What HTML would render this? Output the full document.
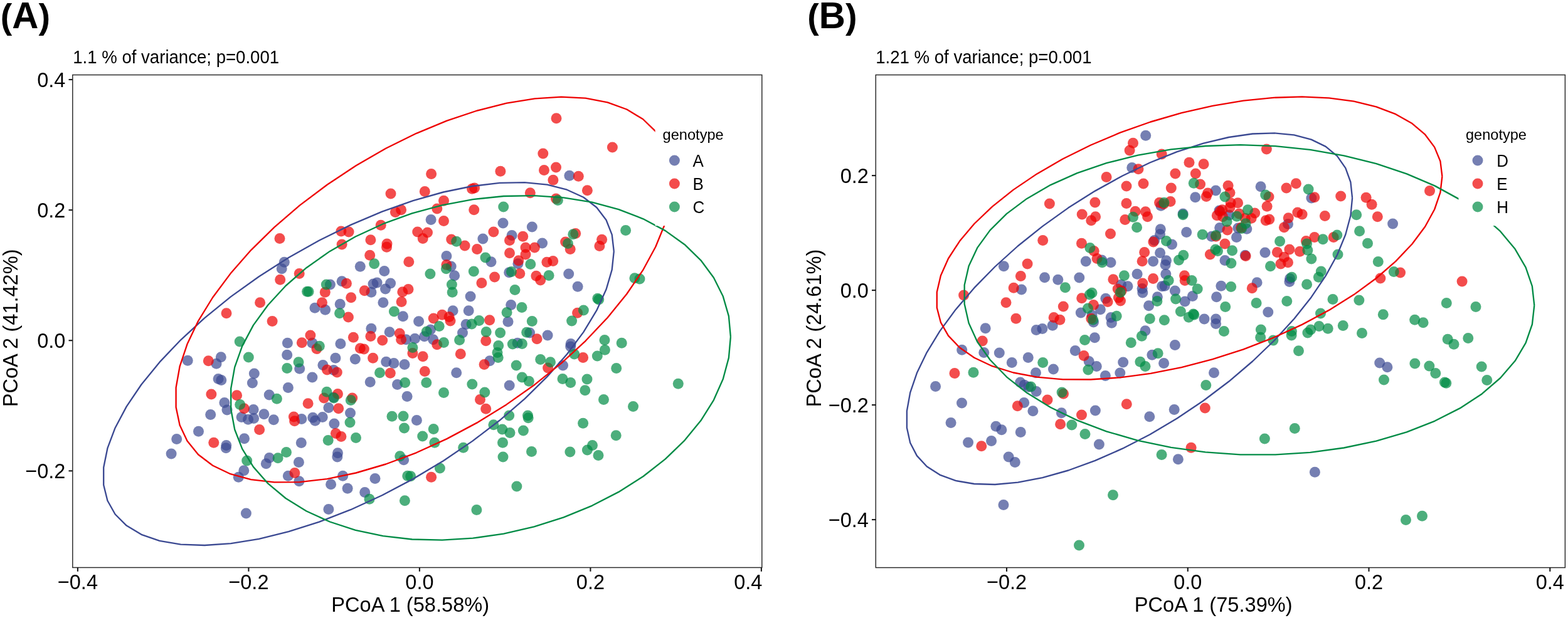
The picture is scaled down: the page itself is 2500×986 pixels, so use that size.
<!DOCTYPE html><html><head><meta charset="utf-8"><style>html,body{margin:0;padding:0;background:#fff;}svg{display:block}text{font-family:'Liberation Sans', Arial, sans-serif;fill:#000}</style></head><body>
<svg width="2500" height="986" viewBox="0 0 2500 986">
<rect x="0" y="0" width="2500" height="986" fill="#fff"/>
<text transform="translate(0.80,45.2)" font-weight="bold"><tspan font-size="55.6" dy="-0.6">(</tspan><tspan font-size="58.3" dy="0.6">A</tspan><tspan font-size="55.6" dy="-0.6">)</tspan></text>
<text transform="translate(116.20,101.20) scale(1,1.041)" font-size="27.6">1.1 % of variance; p=0.001</text>
<g fill-opacity="0.7">
<circle cx="687.1" cy="350.4" r="8.5" fill="#3B4992"/>
<circle cx="802.0" cy="356.0" r="8.5" fill="#3B4992"/>
<circle cx="848.3" cy="362.1" r="8.5" fill="#3B4992"/>
<circle cx="769.9" cy="381.1" r="8.5" fill="#3B4992"/>
<circle cx="816.1" cy="375.5" r="8.5" fill="#3B4992"/>
<circle cx="907.9" cy="280.3" r="8.5" fill="#3B4992"/>
<circle cx="864.6" cy="388.1" r="8.5" fill="#3B4992"/>
<circle cx="453.3" cy="418.3" r="8.5" fill="#3B4992"/>
<circle cx="449.2" cy="428.7" r="8.5" fill="#3B4992"/>
<circle cx="526.4" cy="454.1" r="8.5" fill="#3B4992"/>
<circle cx="545.1" cy="448.7" r="8.5" fill="#3B4992"/>
<circle cx="502.0" cy="491.3" r="8.5" fill="#3B4992"/>
<circle cx="518.6" cy="494.2" r="8.5" fill="#3B4992"/>
<circle cx="542.2" cy="485.2" r="8.5" fill="#3B4992"/>
<circle cx="299.2" cy="575.3" r="8.5" fill="#3B4992"/>
<circle cx="352.3" cy="569.7" r="8.5" fill="#3B4992"/>
<circle cx="345.0" cy="580.2" r="8.5" fill="#3B4992"/>
<circle cx="348.1" cy="604.5" r="8.5" fill="#3B4992"/>
<circle cx="352.8" cy="606.5" r="8.5" fill="#3B4992"/>
<circle cx="405.3" cy="596.0" r="8.5" fill="#3B4992"/>
<circle cx="402.4" cy="610.9" r="8.5" fill="#3B4992"/>
<circle cx="429.2" cy="630.1" r="8.5" fill="#3B4992"/>
<circle cx="458.4" cy="547.3" r="8.5" fill="#3B4992"/>
<circle cx="497.9" cy="547.3" r="8.5" fill="#3B4992"/>
<circle cx="542.9" cy="548.5" r="8.5" fill="#3B4992"/>
<circle cx="457.7" cy="566.3" r="8.5" fill="#3B4992"/>
<circle cx="477.7" cy="588.2" r="8.5" fill="#3B4992"/>
<circle cx="534.9" cy="571.2" r="8.5" fill="#3B4992"/>
<circle cx="514.9" cy="582.6" r="8.5" fill="#3B4992"/>
<circle cx="532.0" cy="590.4" r="8.5" fill="#3B4992"/>
<circle cx="497.9" cy="602.1" r="8.5" fill="#3B4992"/>
<circle cx="459.4" cy="618.4" r="8.5" fill="#3B4992"/>
<circle cx="574.3" cy="425.3" r="8.5" fill="#3B4992"/>
<circle cx="612.8" cy="432.4" r="8.5" fill="#3B4992"/>
<circle cx="711.9" cy="408.5" r="8.5" fill="#3B4992"/>
<circle cx="719.2" cy="425.1" r="8.5" fill="#3B4992"/>
<circle cx="724.6" cy="439.7" r="8.5" fill="#3B4992"/>
<circle cx="783.0" cy="417.8" r="8.5" fill="#3B4992"/>
<circle cx="825.9" cy="420.7" r="8.5" fill="#3B4992"/>
<circle cx="811.7" cy="434.8" r="8.5" fill="#3B4992"/>
<circle cx="595.0" cy="453.1" r="8.5" fill="#3B4992"/>
<circle cx="601.1" cy="451.1" r="8.5" fill="#3B4992"/>
<circle cx="622.6" cy="451.9" r="8.5" fill="#3B4992"/>
<circle cx="591.9" cy="466.2" r="8.5" fill="#3B4992"/>
<circle cx="614.5" cy="460.9" r="8.5" fill="#3B4992"/>
<circle cx="610.9" cy="482.8" r="8.5" fill="#3B4992"/>
<circle cx="642.5" cy="504.7" r="8.5" fill="#3B4992"/>
<circle cx="750.1" cy="473.0" r="8.5" fill="#3B4992"/>
<circle cx="814.7" cy="486.4" r="8.5" fill="#3B4992"/>
<circle cx="722.1" cy="495.7" r="8.5" fill="#3B4992"/>
<circle cx="747.2" cy="495.7" r="8.5" fill="#3B4992"/>
<circle cx="667.6" cy="512.7" r="8.5" fill="#3B4992"/>
<circle cx="810.0" cy="513.2" r="8.5" fill="#3B4992"/>
<circle cx="743.1" cy="517.6" r="8.5" fill="#3B4992"/>
<circle cx="591.9" cy="524.2" r="8.5" fill="#3B4992"/>
<circle cx="621.1" cy="529.8" r="8.5" fill="#3B4992"/>
<circle cx="647.4" cy="541.7" r="8.5" fill="#3B4992"/>
<circle cx="661.5" cy="540.2" r="8.5" fill="#3B4992"/>
<circle cx="676.6" cy="536.8" r="8.5" fill="#3B4992"/>
<circle cx="686.4" cy="526.1" r="8.5" fill="#3B4992"/>
<circle cx="690.7" cy="541.7" r="8.5" fill="#3B4992"/>
<circle cx="737.5" cy="531.0" r="8.5" fill="#3B4992"/>
<circle cx="844.6" cy="531.0" r="8.5" fill="#3B4992"/>
<circle cx="825.1" cy="547.3" r="8.5" fill="#3B4992"/>
<circle cx="780.8" cy="575.8" r="8.5" fill="#3B4992"/>
<circle cx="566.3" cy="572.9" r="8.5" fill="#3B4992"/>
<circle cx="615.7" cy="577.3" r="8.5" fill="#3B4992"/>
<circle cx="627.9" cy="579.4" r="8.5" fill="#3B4992"/>
<circle cx="645.0" cy="581.4" r="8.5" fill="#3B4992"/>
<circle cx="727.7" cy="594.8" r="8.5" fill="#3B4992"/>
<circle cx="590.2" cy="609.4" r="8.5" fill="#3B4992"/>
<circle cx="633.5" cy="613.5" r="8.5" fill="#3B4992"/>
<circle cx="812.2" cy="615.0" r="8.5" fill="#3B4992"/>
<circle cx="649.1" cy="632.5" r="8.5" fill="#3B4992"/>
<circle cx="906.7" cy="437.0" r="8.5" fill="#3B4992"/>
<circle cx="921.1" cy="457.2" r="8.5" fill="#3B4992"/>
<circle cx="873.1" cy="535.1" r="8.5" fill="#3B4992"/>
<circle cx="910.1" cy="548.5" r="8.5" fill="#3B4992"/>
<circle cx="909.7" cy="552.9" r="8.5" fill="#3B4992"/>
<circle cx="897.5" cy="583.1" r="8.5" fill="#3B4992"/>
<circle cx="357.9" cy="642.4" r="8.5" fill="#3B4992"/>
<circle cx="362.0" cy="654.1" r="8.5" fill="#3B4992"/>
<circle cx="404.1" cy="653.4" r="8.5" fill="#3B4992"/>
<circle cx="335.7" cy="661.4" r="8.5" fill="#3B4992"/>
<circle cx="385.1" cy="665.6" r="8.5" fill="#3B4992"/>
<circle cx="395.6" cy="669.2" r="8.5" fill="#3B4992"/>
<circle cx="404.6" cy="667.5" r="8.5" fill="#3B4992"/>
<circle cx="420.9" cy="660.7" r="8.5" fill="#3B4992"/>
<circle cx="436.3" cy="669.7" r="8.5" fill="#3B4992"/>
<circle cx="480.8" cy="668.5" r="8.5" fill="#3B4992"/>
<circle cx="498.8" cy="666.3" r="8.5" fill="#3B4992"/>
<circle cx="502.5" cy="671.2" r="8.5" fill="#3B4992"/>
<circle cx="514.2" cy="665.6" r="8.5" fill="#3B4992"/>
<circle cx="523.9" cy="650.5" r="8.5" fill="#3B4992"/>
<circle cx="532.9" cy="676.0" r="8.5" fill="#3B4992"/>
<circle cx="316.5" cy="688.2" r="8.5" fill="#3B4992"/>
<circle cx="281.7" cy="700.4" r="8.5" fill="#3B4992"/>
<circle cx="360.8" cy="710.6" r="8.5" fill="#3B4992"/>
<circle cx="360.3" cy="714.8" r="8.5" fill="#3B4992"/>
<circle cx="389.5" cy="699.7" r="8.5" fill="#3B4992"/>
<circle cx="273.1" cy="724.0" r="8.5" fill="#3B4992"/>
<circle cx="480.3" cy="706.5" r="8.5" fill="#3B4992"/>
<circle cx="429.4" cy="730.6" r="8.5" fill="#3B4992"/>
<circle cx="424.3" cy="739.8" r="8.5" fill="#3B4992"/>
<circle cx="538.5" cy="722.8" r="8.5" fill="#3B4992"/>
<circle cx="537.8" cy="728.9" r="8.5" fill="#3B4992"/>
<circle cx="476.4" cy="737.4" r="8.5" fill="#3B4992"/>
<circle cx="388.8" cy="750.8" r="8.5" fill="#3B4992"/>
<circle cx="380.3" cy="761.3" r="8.5" fill="#3B4992"/>
<circle cx="459.4" cy="759.3" r="8.5" fill="#3B4992"/>
<circle cx="476.9" cy="767.8" r="8.5" fill="#3B4992"/>
<circle cx="546.6" cy="759.3" r="8.5" fill="#3B4992"/>
<circle cx="527.6" cy="772.7" r="8.5" fill="#3B4992"/>
<circle cx="523.9" cy="812.4" r="8.5" fill="#3B4992"/>
<circle cx="392.4" cy="819.0" r="8.5" fill="#3B4992"/>
<circle cx="558.5" cy="659.0" r="8.5" fill="#3B4992"/>
<circle cx="664.4" cy="670.4" r="8.5" fill="#3B4992"/>
<circle cx="643.7" cy="733.7" r="8.5" fill="#3B4992"/>
<circle cx="598.0" cy="763.4" r="8.5" fill="#3B4992"/>
<circle cx="554.1" cy="779.3" r="8.5" fill="#3B4992"/>
<circle cx="581.7" cy="785.6" r="8.5" fill="#3B4992"/>
<circle cx="531.7" cy="634.0" r="8.5" fill="#3B4992"/>
<circle cx="446.0" cy="380.4" r="8.5" fill="#EE0000"/>
<circle cx="543.9" cy="368.9" r="8.5" fill="#EE0000"/>
<circle cx="545.1" cy="390.1" r="8.5" fill="#EE0000"/>
<circle cx="687.6" cy="277.6" r="8.5" fill="#EE0000"/>
<circle cx="797.9" cy="273.2" r="8.5" fill="#EE0000"/>
<circle cx="623.0" cy="309.0" r="8.5" fill="#EE0000"/>
<circle cx="677.3" cy="305.4" r="8.5" fill="#EE0000"/>
<circle cx="752.6" cy="301.2" r="8.5" fill="#EE0000"/>
<circle cx="756.5" cy="300.0" r="8.5" fill="#EE0000"/>
<circle cx="845.3" cy="307.8" r="8.5" fill="#EE0000"/>
<circle cx="707.5" cy="320.2" r="8.5" fill="#EE0000"/>
<circle cx="639.6" cy="334.8" r="8.5" fill="#EE0000"/>
<circle cx="630.4" cy="338.5" r="8.5" fill="#EE0000"/>
<circle cx="696.8" cy="332.9" r="8.5" fill="#EE0000"/>
<circle cx="755.7" cy="334.8" r="8.5" fill="#EE0000"/>
<circle cx="707.5" cy="352.4" r="8.5" fill="#EE0000"/>
<circle cx="607.2" cy="359.2" r="8.5" fill="#EE0000"/>
<circle cx="556.1" cy="370.1" r="8.5" fill="#EE0000"/>
<circle cx="590.9" cy="382.8" r="8.5" fill="#EE0000"/>
<circle cx="617.0" cy="388.9" r="8.5" fill="#EE0000"/>
<circle cx="616.5" cy="394.2" r="8.5" fill="#EE0000"/>
<circle cx="665.7" cy="369.9" r="8.5" fill="#EE0000"/>
<circle cx="681.5" cy="370.9" r="8.5" fill="#EE0000"/>
<circle cx="674.2" cy="380.4" r="8.5" fill="#EE0000"/>
<circle cx="719.7" cy="382.1" r="8.5" fill="#EE0000"/>
<circle cx="741.1" cy="392.0" r="8.5" fill="#EE0000"/>
<circle cx="786.9" cy="369.9" r="8.5" fill="#EE0000"/>
<circle cx="812.5" cy="383.5" r="8.5" fill="#EE0000"/>
<circle cx="833.7" cy="377.2" r="8.5" fill="#EE0000"/>
<circle cx="838.0" cy="395.0" r="8.5" fill="#EE0000"/>
<circle cx="760.6" cy="397.4" r="8.5" fill="#EE0000"/>
<circle cx="887.0" cy="188.7" r="8.5" fill="#EE0000"/>
<circle cx="976.4" cy="235.0" r="8.5" fill="#EE0000"/>
<circle cx="865.8" cy="245.0" r="8.5" fill="#EE0000"/>
<circle cx="867.5" cy="271.5" r="8.5" fill="#EE0000"/>
<circle cx="886.5" cy="267.1" r="8.5" fill="#EE0000"/>
<circle cx="922.3" cy="281.3" r="8.5" fill="#EE0000"/>
<circle cx="881.9" cy="287.3" r="8.5" fill="#EE0000"/>
<circle cx="936.4" cy="303.7" r="8.5" fill="#EE0000"/>
<circle cx="886.5" cy="317.0" r="8.5" fill="#EE0000"/>
<circle cx="917.7" cy="372.6" r="8.5" fill="#EE0000"/>
<circle cx="901.6" cy="386.0" r="8.5" fill="#EE0000"/>
<circle cx="909.2" cy="397.4" r="8.5" fill="#EE0000"/>
<circle cx="852.4" cy="395.0" r="8.5" fill="#EE0000"/>
<circle cx="959.6" cy="382.3" r="8.5" fill="#EE0000"/>
<circle cx="955.9" cy="392.5" r="8.5" fill="#EE0000"/>
<circle cx="446.7" cy="446.3" r="8.5" fill="#EE0000"/>
<circle cx="477.2" cy="436.5" r="8.5" fill="#EE0000"/>
<circle cx="414.6" cy="482.8" r="8.5" fill="#EE0000"/>
<circle cx="361.0" cy="499.8" r="8.5" fill="#EE0000"/>
<circle cx="434.1" cy="512.5" r="8.5" fill="#EE0000"/>
<circle cx="518.3" cy="466.2" r="8.5" fill="#EE0000"/>
<circle cx="513.5" cy="482.8" r="8.5" fill="#EE0000"/>
<circle cx="332.3" cy="575.8" r="8.5" fill="#EE0000"/>
<circle cx="336.9" cy="628.9" r="8.5" fill="#EE0000"/>
<circle cx="377.6" cy="630.8" r="8.5" fill="#EE0000"/>
<circle cx="494.9" cy="535.1" r="8.5" fill="#EE0000"/>
<circle cx="481.3" cy="546.8" r="8.5" fill="#EE0000"/>
<circle cx="504.9" cy="556.6" r="8.5" fill="#EE0000"/>
<circle cx="521.5" cy="589.9" r="8.5" fill="#EE0000"/>
<circle cx="537.3" cy="594.1" r="8.5" fill="#EE0000"/>
<circle cx="538.5" cy="628.4" r="8.5" fill="#EE0000"/>
<circle cx="516.6" cy="635.0" r="8.5" fill="#EE0000"/>
<circle cx="589.7" cy="407.3" r="8.5" fill="#EE0000"/>
<circle cx="651.8" cy="417.8" r="8.5" fill="#EE0000"/>
<circle cx="711.9" cy="422.4" r="8.5" fill="#EE0000"/>
<circle cx="812.5" cy="403.7" r="8.5" fill="#EE0000"/>
<circle cx="838.0" cy="406.1" r="8.5" fill="#EE0000"/>
<circle cx="826.8" cy="415.8" r="8.5" fill="#EE0000"/>
<circle cx="828.8" cy="436.5" r="8.5" fill="#EE0000"/>
<circle cx="788.6" cy="441.9" r="8.5" fill="#EE0000"/>
<circle cx="767.9" cy="451.6" r="8.5" fill="#EE0000"/>
<circle cx="552.4" cy="452.3" r="8.5" fill="#EE0000"/>
<circle cx="581.2" cy="463.8" r="8.5" fill="#EE0000"/>
<circle cx="641.8" cy="465.7" r="8.5" fill="#EE0000"/>
<circle cx="651.0" cy="461.6" r="8.5" fill="#EE0000"/>
<circle cx="559.7" cy="474.8" r="8.5" fill="#EE0000"/>
<circle cx="640.1" cy="481.6" r="8.5" fill="#EE0000"/>
<circle cx="555.4" cy="505.9" r="8.5" fill="#EE0000"/>
<circle cx="691.2" cy="507.9" r="8.5" fill="#EE0000"/>
<circle cx="704.9" cy="502.3" r="8.5" fill="#EE0000"/>
<circle cx="716.1" cy="505.4" r="8.5" fill="#EE0000"/>
<circle cx="718.0" cy="512.0" r="8.5" fill="#EE0000"/>
<circle cx="780.6" cy="510.8" r="8.5" fill="#EE0000"/>
<circle cx="590.9" cy="536.4" r="8.5" fill="#EE0000"/>
<circle cx="563.4" cy="538.3" r="8.5" fill="#EE0000"/>
<circle cx="609.7" cy="542.9" r="8.5" fill="#EE0000"/>
<circle cx="637.2" cy="532.0" r="8.5" fill="#EE0000"/>
<circle cx="639.6" cy="541.7" r="8.5" fill="#EE0000"/>
<circle cx="696.8" cy="549.7" r="8.5" fill="#EE0000"/>
<circle cx="774.7" cy="543.7" r="8.5" fill="#EE0000"/>
<circle cx="574.3" cy="555.8" r="8.5" fill="#EE0000"/>
<circle cx="580.4" cy="557.0" r="8.5" fill="#EE0000"/>
<circle cx="657.9" cy="563.6" r="8.5" fill="#EE0000"/>
<circle cx="674.2" cy="568.7" r="8.5" fill="#EE0000"/>
<circle cx="734.3" cy="564.8" r="8.5" fill="#EE0000"/>
<circle cx="772.1" cy="581.4" r="8.5" fill="#EE0000"/>
<circle cx="594.6" cy="571.2" r="8.5" fill="#EE0000"/>
<circle cx="622.3" cy="595.3" r="8.5" fill="#EE0000"/>
<circle cx="677.3" cy="592.4" r="8.5" fill="#EE0000"/>
<circle cx="765.5" cy="637.4" r="8.5" fill="#EE0000"/>
<circle cx="561.7" cy="635.0" r="8.5" fill="#EE0000"/>
<circle cx="871.9" cy="418.3" r="8.5" fill="#EE0000"/>
<circle cx="881.7" cy="416.6" r="8.5" fill="#EE0000"/>
<circle cx="854.9" cy="440.2" r="8.5" fill="#EE0000"/>
<circle cx="861.7" cy="447.0" r="8.5" fill="#EE0000"/>
<circle cx="920.6" cy="499.3" r="8.5" fill="#EE0000"/>
<circle cx="856.1" cy="540.7" r="8.5" fill="#EE0000"/>
<circle cx="929.6" cy="570.4" r="8.5" fill="#EE0000"/>
<circle cx="873.6" cy="587.0" r="8.5" fill="#EE0000"/>
<circle cx="491.1" cy="643.7" r="8.5" fill="#EE0000"/>
<circle cx="389.3" cy="651.7" r="8.5" fill="#EE0000"/>
<circle cx="468.4" cy="665.1" r="8.5" fill="#EE0000"/>
<circle cx="469.6" cy="671.7" r="8.5" fill="#EE0000"/>
<circle cx="539.7" cy="651.7" r="8.5" fill="#EE0000"/>
<circle cx="413.6" cy="685.5" r="8.5" fill="#EE0000"/>
<circle cx="340.8" cy="706.2" r="8.5" fill="#EE0000"/>
<circle cx="535.4" cy="691.6" r="8.5" fill="#EE0000"/>
<circle cx="543.9" cy="696.5" r="8.5" fill="#EE0000"/>
<circle cx="469.9" cy="754.4" r="8.5" fill="#EE0000"/>
<circle cx="774.7" cy="652.2" r="8.5" fill="#EE0000"/>
<circle cx="687.6" cy="761.3" r="8.5" fill="#EE0000"/>
<circle cx="802.7" cy="330.0" r="8.5" fill="#008B45"/>
<circle cx="727.7" cy="385.2" r="8.5" fill="#008B45"/>
<circle cx="889.4" cy="319.5" r="8.5" fill="#008B45"/>
<circle cx="997.6" cy="367.5" r="8.5" fill="#008B45"/>
<circle cx="913.8" cy="373.8" r="8.5" fill="#008B45"/>
<circle cx="905.5" cy="388.4" r="8.5" fill="#008B45"/>
<circle cx="489.6" cy="465.3" r="8.5" fill="#008B45"/>
<circle cx="492.0" cy="465.3" r="8.5" fill="#008B45"/>
<circle cx="520.3" cy="454.1" r="8.5" fill="#008B45"/>
<circle cx="541.5" cy="499.8" r="8.5" fill="#008B45"/>
<circle cx="382.2" cy="544.9" r="8.5" fill="#008B45"/>
<circle cx="396.3" cy="570.0" r="8.5" fill="#008B45"/>
<circle cx="441.4" cy="636.2" r="8.5" fill="#008B45"/>
<circle cx="509.3" cy="552.2" r="8.5" fill="#008B45"/>
<circle cx="476.0" cy="577.7" r="8.5" fill="#008B45"/>
<circle cx="457.7" cy="587.5" r="8.5" fill="#008B45"/>
<circle cx="521.0" cy="625.2" r="8.5" fill="#008B45"/>
<circle cx="532.4" cy="635.0" r="8.5" fill="#008B45"/>
<circle cx="596.7" cy="420.7" r="8.5" fill="#008B45"/>
<circle cx="711.4" cy="428.7" r="8.5" fill="#008B45"/>
<circle cx="685.9" cy="437.0" r="8.5" fill="#008B45"/>
<circle cx="720.4" cy="454.1" r="8.5" fill="#008B45"/>
<circle cx="721.2" cy="466.2" r="8.5" fill="#008B45"/>
<circle cx="774.0" cy="411.0" r="8.5" fill="#008B45"/>
<circle cx="755.3" cy="432.9" r="8.5" fill="#008B45"/>
<circle cx="845.8" cy="421.4" r="8.5" fill="#008B45"/>
<circle cx="815.4" cy="433.6" r="8.5" fill="#008B45"/>
<circle cx="821.0" cy="462.6" r="8.5" fill="#008B45"/>
<circle cx="628.4" cy="496.9" r="8.5" fill="#008B45"/>
<circle cx="832.0" cy="490.6" r="8.5" fill="#008B45"/>
<circle cx="808.1" cy="498.6" r="8.5" fill="#008B45"/>
<circle cx="700.2" cy="520.5" r="8.5" fill="#008B45"/>
<circle cx="763.8" cy="511.5" r="8.5" fill="#008B45"/>
<circle cx="752.1" cy="516.9" r="8.5" fill="#008B45"/>
<circle cx="848.3" cy="512.5" r="8.5" fill="#008B45"/>
<circle cx="680.3" cy="529.0" r="8.5" fill="#008B45"/>
<circle cx="707.5" cy="546.6" r="8.5" fill="#008B45"/>
<circle cx="732.6" cy="542.4" r="8.5" fill="#008B45"/>
<circle cx="775.2" cy="529.5" r="8.5" fill="#008B45"/>
<circle cx="797.6" cy="531.0" r="8.5" fill="#008B45"/>
<circle cx="839.7" cy="530.3" r="8.5" fill="#008B45"/>
<circle cx="794.7" cy="551.4" r="8.5" fill="#008B45"/>
<circle cx="817.3" cy="549.0" r="8.5" fill="#008B45"/>
<circle cx="832.4" cy="548.5" r="8.5" fill="#008B45"/>
<circle cx="657.9" cy="554.6" r="8.5" fill="#008B45"/>
<circle cx="793.0" cy="562.6" r="8.5" fill="#008B45"/>
<circle cx="794.2" cy="570.4" r="8.5" fill="#008B45"/>
<circle cx="823.2" cy="583.1" r="8.5" fill="#008B45"/>
<circle cx="605.5" cy="594.8" r="8.5" fill="#008B45"/>
<circle cx="645.7" cy="610.6" r="8.5" fill="#008B45"/>
<circle cx="679.8" cy="610.6" r="8.5" fill="#008B45"/>
<circle cx="752.8" cy="613.1" r="8.5" fill="#008B45"/>
<circle cx="832.4" cy="602.1" r="8.5" fill="#008B45"/>
<circle cx="843.4" cy="608.2" r="8.5" fill="#008B45"/>
<circle cx="707.5" cy="626.4" r="8.5" fill="#008B45"/>
<circle cx="772.8" cy="626.0" r="8.5" fill="#008B45"/>
<circle cx="559.3" cy="638.6" r="8.5" fill="#008B45"/>
<circle cx="875.1" cy="439.4" r="8.5" fill="#008B45"/>
<circle cx="952.8" cy="476.2" r="8.5" fill="#008B45"/>
<circle cx="954.7" cy="477.9" r="8.5" fill="#008B45"/>
<circle cx="1011.9" cy="443.8" r="8.5" fill="#008B45"/>
<circle cx="1020.0" cy="445.0" r="8.5" fill="#008B45"/>
<circle cx="930.4" cy="495.0" r="8.5" fill="#008B45"/>
<circle cx="911.6" cy="512.0" r="8.5" fill="#008B45"/>
<circle cx="915.7" cy="565.1" r="8.5" fill="#008B45"/>
<circle cx="964.0" cy="542.4" r="8.5" fill="#008B45"/>
<circle cx="991.2" cy="547.3" r="8.5" fill="#008B45"/>
<circle cx="964.4" cy="558.3" r="8.5" fill="#008B45"/>
<circle cx="952.3" cy="568.0" r="8.5" fill="#008B45"/>
<circle cx="861.7" cy="573.6" r="8.5" fill="#008B45"/>
<circle cx="877.5" cy="577.7" r="8.5" fill="#008B45"/>
<circle cx="982.7" cy="587.5" r="8.5" fill="#008B45"/>
<circle cx="897.0" cy="604.5" r="8.5" fill="#008B45"/>
<circle cx="909.7" cy="610.6" r="8.5" fill="#008B45"/>
<circle cx="936.0" cy="605.0" r="8.5" fill="#008B45"/>
<circle cx="932.8" cy="622.8" r="8.5" fill="#008B45"/>
<circle cx="1081.3" cy="612.3" r="8.5" fill="#008B45"/>
<circle cx="962.5" cy="637.4" r="8.5" fill="#008B45"/>
<circle cx="382.7" cy="645.4" r="8.5" fill="#008B45"/>
<circle cx="523.2" cy="702.6" r="8.5" fill="#008B45"/>
<circle cx="456.5" cy="721.6" r="8.5" fill="#008B45"/>
<circle cx="443.1" cy="730.8" r="8.5" fill="#008B45"/>
<circle cx="393.7" cy="735.0" r="8.5" fill="#008B45"/>
<circle cx="558.0" cy="674.1" r="8.5" fill="#008B45"/>
<circle cx="567.5" cy="698.4" r="8.5" fill="#008B45"/>
<circle cx="625.0" cy="664.3" r="8.5" fill="#008B45"/>
<circle cx="643.0" cy="663.9" r="8.5" fill="#008B45"/>
<circle cx="644.5" cy="683.1" r="8.5" fill="#008B45"/>
<circle cx="691.2" cy="684.6" r="8.5" fill="#008B45"/>
<circle cx="673.7" cy="696.0" r="8.5" fill="#008B45"/>
<circle cx="692.9" cy="706.2" r="8.5" fill="#008B45"/>
<circle cx="738.7" cy="714.3" r="8.5" fill="#008B45"/>
<circle cx="786.9" cy="677.7" r="8.5" fill="#008B45"/>
<circle cx="811.7" cy="663.1" r="8.5" fill="#008B45"/>
<circle cx="800.8" cy="685.0" r="8.5" fill="#008B45"/>
<circle cx="813.0" cy="690.6" r="8.5" fill="#008B45"/>
<circle cx="801.5" cy="706.2" r="8.5" fill="#008B45"/>
<circle cx="834.4" cy="687.0" r="8.5" fill="#008B45"/>
<circle cx="841.5" cy="663.1" r="8.5" fill="#008B45"/>
<circle cx="842.2" cy="666.8" r="8.5" fill="#008B45"/>
<circle cx="847.5" cy="720.4" r="8.5" fill="#008B45"/>
<circle cx="802.0" cy="728.9" r="8.5" fill="#008B45"/>
<circle cx="637.7" cy="727.7" r="8.5" fill="#008B45"/>
<circle cx="701.4" cy="747.1" r="8.5" fill="#008B45"/>
<circle cx="649.8" cy="759.3" r="8.5" fill="#008B45"/>
<circle cx="654.7" cy="759.8" r="8.5" fill="#008B45"/>
<circle cx="589.0" cy="796.3" r="8.5" fill="#008B45"/>
<circle cx="645.4" cy="798.8" r="8.5" fill="#008B45"/>
<circle cx="823.9" cy="775.9" r="8.5" fill="#008B45"/>
<circle cx="759.9" cy="813.4" r="8.5" fill="#008B45"/>
<circle cx="1009.5" cy="648.5" r="8.5" fill="#008B45"/>
<circle cx="929.6" cy="675.3" r="8.5" fill="#008B45"/>
<circle cx="982.2" cy="694.8" r="8.5" fill="#008B45"/>
<circle cx="944.5" cy="710.6" r="8.5" fill="#008B45"/>
<circle cx="936.4" cy="717.9" r="8.5" fill="#008B45"/>
<circle cx="954.0" cy="726.4" r="8.5" fill="#008B45"/>
<circle cx="908.9" cy="721.1" r="8.5" fill="#008B45"/>
</g>
<polyline points="978.8,401.0 975.7,374.4 966.5,351.0 951.3,331.0 930.3,314.8 903.9,302.7 872.5,294.7 836.5,291.1 796.5,291.9 753.1,297.0 706.9,306.5 658.7,320.1 609.2,337.6 559.1,358.9 509.1,383.5 460.2,411.0 412.9,441.2 368.0,473.4 326.2,507.3 288.2,542.3 254.4,577.9 225.4,613.5 201.7,648.6 183.6,682.7 171.4,715.2 165.2,745.7 165.2,773.7 171.4,798.7 183.6,820.5 201.7,838.6 225.4,852.8 254.4,862.8 288.2,868.6 326.2,870.0 368.0,867.1 412.9,859.8 460.2,848.2 509.1,832.6 559.1,813.2 609.2,790.2 658.7,764.1 706.9,735.2 753.1,703.9 796.5,670.8 836.5,636.3 872.5,600.9 903.9,565.3 930.3,529.9 951.3,495.2 966.5,461.8 975.7,430.3 978.8,401.0" fill="none" stroke="#3B4992" stroke-width="2.35" stroke-linejoin="round" stroke-linecap="butt"/>
<polyline points="1072.1,290.1 1069.1,260.1 1060.1,233.2 1045.3,209.7 1025.0,190.0 999.3,174.5 968.7,163.3 933.7,156.7 894.8,154.7 852.5,157.4 807.6,164.7 760.7,176.5 712.5,192.6 663.8,212.8 615.2,236.8 567.6,264.2 521.6,294.7 477.9,327.6 437.3,362.6 400.2,399.1 367.4,436.6 339.2,474.5 316.1,512.1 298.5,549.1 286.6,584.7 280.6,618.4 280.6,649.8 286.6,678.3 298.5,703.6 316.1,725.2 339.2,742.8 367.4,756.2 400.2,765.1 437.3,769.4 477.9,769.1 521.6,764.1 567.6,754.5 615.2,740.5 663.8,722.3 712.5,700.1 760.7,674.4 807.6,645.4 852.5,613.7 894.8,579.6 933.7,543.8 968.7,506.7 999.3,469.0 1025.0,431.2 1045.3,393.8 1060.1,357.5 1069.1,322.7 1072.1,290.1" fill="none" stroke="#EE0000" stroke-width="2.35" stroke-linejoin="round" stroke-linecap="butt"/>
<polyline points="1164.9,537.3 1161.9,504.4 1152.8,472.8 1137.9,443.0 1117.4,415.3 1091.6,390.2 1060.8,368.1 1025.6,349.3 986.4,334.1 943.9,322.7 898.7,315.4 851.5,312.1 802.9,313.0 753.9,318.1 705.0,327.3 657.0,340.3 610.7,357.2 566.8,377.5 525.9,400.9 488.6,427.2 455.5,456.0 427.2,486.7 403.9,518.9 386.2,552.1 374.2,585.9 368.2,619.7 368.2,653.0 374.2,685.3 386.2,716.1 403.9,744.9 427.2,771.4 455.5,795.0 488.6,815.5 525.9,832.5 566.8,845.8 610.7,855.2 657.0,860.5 705.0,861.7 753.9,858.7 802.9,851.6 851.5,840.4 898.7,825.4 943.9,806.8 986.4,784.9 1025.6,760.0 1060.8,732.4 1091.6,702.6 1117.4,671.1 1137.9,638.3 1152.8,604.8 1161.9,570.9 1164.9,537.3" fill="none" stroke="#008B45" stroke-width="2.35" stroke-linejoin="round" stroke-linecap="butt"/>
<rect x="1044.6" y="195" width="125.40000000000009" height="165.2" fill="#fff"/>
<text transform="translate(1056.60,223.30) scale(1,1.041)" font-size="23.6">genotype</text>
<circle cx="1075.4" cy="256" r="8.5" fill="#3B4992" fill-opacity="0.7"/>
<text transform="translate(1104.50,265.80) scale(1,1.041)" font-size="26">A</text>
<circle cx="1075.4" cy="293" r="8.5" fill="#EE0000" fill-opacity="0.7"/>
<text transform="translate(1104.50,302.80) scale(1,1.041)" font-size="26">B</text>
<circle cx="1075.4" cy="330" r="8.5" fill="#008B45" fill-opacity="0.7"/>
<text transform="translate(1104.50,339.80) scale(1,1.041)" font-size="26">C</text>
<rect x="115.8" y="119.5" width="1099.0" height="786.0" fill="none" stroke="#262626" stroke-width="1.45"/>
<line x1="109.5" y1="127.0" x2="115.8" y2="127.0" stroke="#1a1a1a" stroke-width="2.1"/>
<text transform="translate(104.30,138.90) scale(1,1.041)" font-size="32.5" text-anchor="end">0.4</text>
<line x1="109.5" y1="335.1" x2="115.8" y2="335.1" stroke="#1a1a1a" stroke-width="2.1"/>
<text transform="translate(104.30,347.00) scale(1,1.041)" font-size="32.5" text-anchor="end">0.2</text>
<line x1="109.5" y1="543.2" x2="115.8" y2="543.2" stroke="#1a1a1a" stroke-width="2.1"/>
<text transform="translate(104.30,555.10) scale(1,1.041)" font-size="32.5" text-anchor="end">0.0</text>
<line x1="109.5" y1="751.3" x2="115.8" y2="751.3" stroke="#1a1a1a" stroke-width="2.1"/>
<text transform="translate(104.30,763.20) scale(1,1.041)" font-size="32.5" text-anchor="end">−0.2</text>
<line x1="123.9" y1="905.5" x2="123.9" y2="911.8" stroke="#1a1a1a" stroke-width="2.1"/>
<text transform="translate(123.90,939.80) scale(1,1.041)" font-size="32.5" text-anchor="middle">−0.4</text>
<line x1="396.4" y1="905.5" x2="396.4" y2="911.8" stroke="#1a1a1a" stroke-width="2.1"/>
<text transform="translate(396.40,939.80) scale(1,1.041)" font-size="32.5" text-anchor="middle">−0.2</text>
<line x1="668.9" y1="905.5" x2="668.9" y2="911.8" stroke="#1a1a1a" stroke-width="2.1"/>
<text transform="translate(668.90,939.80) scale(1,1.041)" font-size="32.5" text-anchor="middle">0.0</text>
<line x1="941.4" y1="905.5" x2="941.4" y2="911.8" stroke="#1a1a1a" stroke-width="2.1"/>
<text transform="translate(941.40,939.80) scale(1,1.041)" font-size="32.5" text-anchor="middle">0.2</text>
<line x1="1213.9" y1="905.5" x2="1213.9" y2="911.8" stroke="#1a1a1a" stroke-width="2.1"/>
<text transform="translate(1215.40,939.80) scale(1,1.041)" font-size="32.5" text-anchor="end">0.4</text>
<text transform="translate(528.30,976.10) scale(1,1.041)" font-size="32.6">PCoA 1 (58.58%)</text>
<text transform="translate(27.90,649.30) rotate(-90) scale(1,1.041)" font-size="32.6">PCoA 2 (41.42%)</text>
<text transform="translate(1287.30,45.2)" font-weight="bold"><tspan font-size="55.6" dy="-0.6">(</tspan><tspan font-size="58.3" dy="0.6">B</tspan><tspan font-size="55.6" dy="-0.6">)</tspan></text>
<text transform="translate(1396.20,101.20) scale(1,1.041)" font-size="27.6">1.21 % of variance; p=0.001</text>
<g fill-opacity="0.7">
<circle cx="1731.3" cy="417.0" r="8.5" fill="#3B4992"/>
<circle cx="1756.8" cy="415.1" r="8.5" fill="#3B4992"/>
<circle cx="1600.4" cy="424.8" r="8.5" fill="#3B4992"/>
<circle cx="1826.7" cy="216.3" r="8.5" fill="#3B4992"/>
<circle cx="1804.8" cy="267.4" r="8.5" fill="#3B4992"/>
<circle cx="1905.8" cy="314.8" r="8.5" fill="#3B4992"/>
<circle cx="1938.4" cy="303.9" r="8.5" fill="#3B4992"/>
<circle cx="1851.0" cy="328.2" r="8.5" fill="#3B4992"/>
<circle cx="1886.1" cy="340.9" r="8.5" fill="#3B4992"/>
<circle cx="1944.0" cy="336.0" r="8.5" fill="#3B4992"/>
<circle cx="1959.8" cy="343.3" r="8.5" fill="#3B4992"/>
<circle cx="1987.8" cy="365.2" r="8.5" fill="#3B4992"/>
<circle cx="1973.9" cy="364.0" r="8.5" fill="#3B4992"/>
<circle cx="1944.7" cy="363.5" r="8.5" fill="#3B4992"/>
<circle cx="1971.5" cy="378.6" r="8.5" fill="#3B4992"/>
<circle cx="1931.8" cy="377.3" r="8.5" fill="#3B4992"/>
<circle cx="1891.7" cy="370.5" r="8.5" fill="#3B4992"/>
<circle cx="1985.3" cy="407.3" r="8.5" fill="#3B4992"/>
<circle cx="1953.0" cy="415.5" r="8.5" fill="#3B4992"/>
<circle cx="2010.1" cy="297.8" r="8.5" fill="#3B4992"/>
<circle cx="2053.5" cy="357.4" r="8.5" fill="#3B4992"/>
<circle cx="2017.0" cy="402.9" r="8.5" fill="#3B4992"/>
<circle cx="1850.3" cy="365.7" r="8.5" fill="#3B4992"/>
<circle cx="1849.6" cy="373.7" r="8.5" fill="#3B4992"/>
<circle cx="1840.6" cy="383.4" r="8.5" fill="#3B4992"/>
<circle cx="1868.5" cy="390.0" r="8.5" fill="#3B4992"/>
<circle cx="1849.6" cy="403.6" r="8.5" fill="#3B4992"/>
<circle cx="1838.6" cy="417.0" r="8.5" fill="#3B4992"/>
<circle cx="1859.5" cy="415.8" r="8.5" fill="#3B4992"/>
<circle cx="1858.1" cy="422.4" r="8.5" fill="#3B4992"/>
<circle cx="1771.0" cy="418.7" r="8.5" fill="#3B4992"/>
<circle cx="2090.9" cy="316.0" r="8.5" fill="#3B4992"/>
<circle cx="2220.6" cy="356.9" r="8.5" fill="#3B4992"/>
<circle cx="1665.6" cy="442.7" r="8.5" fill="#3B4992"/>
<circle cx="1686.8" cy="446.3" r="8.5" fill="#3B4992"/>
<circle cx="1720.8" cy="442.9" r="8.5" fill="#3B4992"/>
<circle cx="1628.6" cy="462.1" r="8.5" fill="#3B4992"/>
<circle cx="1762.9" cy="476.2" r="8.5" fill="#3B4992"/>
<circle cx="1754.4" cy="493.7" r="8.5" fill="#3B4992"/>
<circle cx="1723.3" cy="498.9" r="8.5" fill="#3B4992"/>
<circle cx="1741.0" cy="503.0" r="8.5" fill="#3B4992"/>
<circle cx="1743.5" cy="513.9" r="8.5" fill="#3B4992"/>
<circle cx="1678.2" cy="519.3" r="8.5" fill="#3B4992"/>
<circle cx="1661.9" cy="524.4" r="8.5" fill="#3B4992"/>
<circle cx="1652.2" cy="526.6" r="8.5" fill="#3B4992"/>
<circle cx="1571.2" cy="523.7" r="8.5" fill="#3B4992"/>
<circle cx="1745.4" cy="538.8" r="8.5" fill="#3B4992"/>
<circle cx="1533.7" cy="558.2" r="8.5" fill="#3B4992"/>
<circle cx="1568.8" cy="562.6" r="8.5" fill="#3B4992"/>
<circle cx="1593.3" cy="563.1" r="8.5" fill="#3B4992"/>
<circle cx="1613.3" cy="578.4" r="8.5" fill="#3B4992"/>
<circle cx="1639.3" cy="570.4" r="8.5" fill="#3B4992"/>
<circle cx="1679.5" cy="588.9" r="8.5" fill="#3B4992"/>
<circle cx="1651.5" cy="594.7" r="8.5" fill="#3B4992"/>
<circle cx="1714.3" cy="559.4" r="8.5" fill="#3B4992"/>
<circle cx="1736.2" cy="576.5" r="8.5" fill="#3B4992"/>
<circle cx="1748.3" cy="584.5" r="8.5" fill="#3B4992"/>
<circle cx="1762.4" cy="599.6" r="8.5" fill="#3B4992"/>
<circle cx="1491.6" cy="616.6" r="8.5" fill="#3B4992"/>
<circle cx="1626.7" cy="610.0" r="8.5" fill="#3B4992"/>
<circle cx="1633.2" cy="614.2" r="8.5" fill="#3B4992"/>
<circle cx="1640.0" cy="617.3" r="8.5" fill="#3B4992"/>
<circle cx="1652.2" cy="624.6" r="8.5" fill="#3B4992"/>
<circle cx="1632.7" cy="642.4" r="8.5" fill="#3B4992"/>
<circle cx="1646.9" cy="655.8" r="8.5" fill="#3B4992"/>
<circle cx="1533.5" cy="642.9" r="8.5" fill="#3B4992"/>
<circle cx="1692.4" cy="658.7" r="8.5" fill="#3B4992"/>
<circle cx="1746.4" cy="655.1" r="8.5" fill="#3B4992"/>
<circle cx="1813.1" cy="437.3" r="8.5" fill="#3B4992"/>
<circle cx="1858.8" cy="437.3" r="8.5" fill="#3B4992"/>
<circle cx="1787.5" cy="454.3" r="8.5" fill="#3B4992"/>
<circle cx="1798.0" cy="456.8" r="8.5" fill="#3B4992"/>
<circle cx="1821.1" cy="460.4" r="8.5" fill="#3B4992"/>
<circle cx="1821.8" cy="467.0" r="8.5" fill="#3B4992"/>
<circle cx="1852.7" cy="456.8" r="8.5" fill="#3B4992"/>
<circle cx="1857.1" cy="456.3" r="8.5" fill="#3B4992"/>
<circle cx="1873.4" cy="464.1" r="8.5" fill="#3B4992"/>
<circle cx="1901.4" cy="472.6" r="8.5" fill="#3B4992"/>
<circle cx="1889.2" cy="481.1" r="8.5" fill="#3B4992"/>
<circle cx="1845.4" cy="473.8" r="8.5" fill="#3B4992"/>
<circle cx="1831.6" cy="487.7" r="8.5" fill="#3B4992"/>
<circle cx="1771.2" cy="506.6" r="8.5" fill="#3B4992"/>
<circle cx="1772.4" cy="515.2" r="8.5" fill="#3B4992"/>
<circle cx="1920.1" cy="509.1" r="8.5" fill="#3B4992"/>
<circle cx="1938.6" cy="509.1" r="8.5" fill="#3B4992"/>
<circle cx="1938.6" cy="516.4" r="8.5" fill="#3B4992"/>
<circle cx="1946.9" cy="456.3" r="8.5" fill="#3B4992"/>
<circle cx="1939.6" cy="473.8" r="8.5" fill="#3B4992"/>
<circle cx="2004.1" cy="450.7" r="8.5" fill="#3B4992"/>
<circle cx="2021.8" cy="498.1" r="8.5" fill="#3B4992"/>
<circle cx="2056.6" cy="444.6" r="8.5" fill="#3B4992"/>
<circle cx="2055.9" cy="449.5" r="8.5" fill="#3B4992"/>
<circle cx="1826.0" cy="527.8" r="8.5" fill="#3B4992"/>
<circle cx="1873.4" cy="550.4" r="8.5" fill="#3B4992"/>
<circle cx="1836.9" cy="566.3" r="8.5" fill="#3B4992"/>
<circle cx="1790.7" cy="577.9" r="8.5" fill="#3B4992"/>
<circle cx="1855.6" cy="579.6" r="8.5" fill="#3B4992"/>
<circle cx="1785.8" cy="595.0" r="8.5" fill="#3B4992"/>
<circle cx="1935.5" cy="594.7" r="8.5" fill="#3B4992"/>
<circle cx="1872.2" cy="653.4" r="8.5" fill="#3B4992"/>
<circle cx="1832.8" cy="664.8" r="8.5" fill="#3B4992"/>
<circle cx="2199.7" cy="579.1" r="8.5" fill="#3B4992"/>
<circle cx="2211.9" cy="585.7" r="8.5" fill="#3B4992"/>
<circle cx="1516.1" cy="674.4" r="8.5" fill="#3B4992"/>
<circle cx="1587.9" cy="680.2" r="8.5" fill="#3B4992"/>
<circle cx="1596.9" cy="685.8" r="8.5" fill="#3B4992"/>
<circle cx="1627.3" cy="689.5" r="8.5" fill="#3B4992"/>
<circle cx="1543.6" cy="706.0" r="8.5" fill="#3B4992"/>
<circle cx="1580.6" cy="703.6" r="8.5" fill="#3B4992"/>
<circle cx="1608.1" cy="728.9" r="8.5" fill="#3B4992"/>
<circle cx="1618.3" cy="737.4" r="8.5" fill="#3B4992"/>
<circle cx="1600.0" cy="805.5" r="8.5" fill="#3B4992"/>
<circle cx="1752.4" cy="708.9" r="8.5" fill="#3B4992"/>
<circle cx="1878.4" cy="732.8" r="8.5" fill="#3B4992"/>
<circle cx="2096.4" cy="753.2" r="8.5" fill="#3B4992"/>
<circle cx="1764.1" cy="282.5" r="8.5" fill="#EE0000"/>
<circle cx="1673.4" cy="325.0" r="8.5" fill="#EE0000"/>
<circle cx="1745.9" cy="323.1" r="8.5" fill="#EE0000"/>
<circle cx="1725.2" cy="342.1" r="8.5" fill="#EE0000"/>
<circle cx="1746.6" cy="345.7" r="8.5" fill="#EE0000"/>
<circle cx="1739.8" cy="351.8" r="8.5" fill="#EE0000"/>
<circle cx="1662.7" cy="383.4" r="8.5" fill="#EE0000"/>
<circle cx="1724.5" cy="388.3" r="8.5" fill="#EE0000"/>
<circle cx="1744.2" cy="400.5" r="8.5" fill="#EE0000"/>
<circle cx="1749.1" cy="412.6" r="8.5" fill="#EE0000"/>
<circle cx="1638.1" cy="421.1" r="8.5" fill="#EE0000"/>
<circle cx="1806.5" cy="228.2" r="8.5" fill="#EE0000"/>
<circle cx="1801.1" cy="239.9" r="8.5" fill="#EE0000"/>
<circle cx="1852.2" cy="246.0" r="8.5" fill="#EE0000"/>
<circle cx="1815.0" cy="269.8" r="8.5" fill="#EE0000"/>
<circle cx="1796.0" cy="297.1" r="8.5" fill="#EE0000"/>
<circle cx="1823.0" cy="292.9" r="8.5" fill="#EE0000"/>
<circle cx="1873.9" cy="276.9" r="8.5" fill="#EE0000"/>
<circle cx="1896.0" cy="259.3" r="8.5" fill="#EE0000"/>
<circle cx="1919.1" cy="261.8" r="8.5" fill="#EE0000"/>
<circle cx="1906.3" cy="276.9" r="8.5" fill="#EE0000"/>
<circle cx="2019.4" cy="237.9" r="8.5" fill="#EE0000"/>
<circle cx="1913.6" cy="294.1" r="8.5" fill="#EE0000"/>
<circle cx="1867.3" cy="300.0" r="8.5" fill="#EE0000"/>
<circle cx="1796.0" cy="324.5" r="8.5" fill="#EE0000"/>
<circle cx="1925.7" cy="308.0" r="8.5" fill="#EE0000"/>
<circle cx="1923.3" cy="313.4" r="8.5" fill="#EE0000"/>
<circle cx="1848.6" cy="323.3" r="8.5" fill="#EE0000"/>
<circle cx="1855.2" cy="325.5" r="8.5" fill="#EE0000"/>
<circle cx="1866.1" cy="321.4" r="8.5" fill="#EE0000"/>
<circle cx="1810.1" cy="337.2" r="8.5" fill="#EE0000"/>
<circle cx="1826.4" cy="337.7" r="8.5" fill="#EE0000"/>
<circle cx="1829.6" cy="345.7" r="8.5" fill="#EE0000"/>
<circle cx="1793.8" cy="350.6" r="8.5" fill="#EE0000"/>
<circle cx="1770.5" cy="373.0" r="8.5" fill="#EE0000"/>
<circle cx="1958.1" cy="296.3" r="8.5" fill="#EE0000"/>
<circle cx="1961.0" cy="307.5" r="8.5" fill="#EE0000"/>
<circle cx="1962.2" cy="323.8" r="8.5" fill="#EE0000"/>
<circle cx="1973.6" cy="323.8" r="8.5" fill="#EE0000"/>
<circle cx="1961.0" cy="331.1" r="8.5" fill="#EE0000"/>
<circle cx="1948.8" cy="334.8" r="8.5" fill="#EE0000"/>
<circle cx="1945.2" cy="337.2" r="8.5" fill="#EE0000"/>
<circle cx="1940.3" cy="343.8" r="8.5" fill="#EE0000"/>
<circle cx="1949.6" cy="345.7" r="8.5" fill="#EE0000"/>
<circle cx="1975.6" cy="340.9" r="8.5" fill="#EE0000"/>
<circle cx="2000.7" cy="340.1" r="8.5" fill="#EE0000"/>
<circle cx="1995.1" cy="348.2" r="8.5" fill="#EE0000"/>
<circle cx="1985.3" cy="348.2" r="8.5" fill="#EE0000"/>
<circle cx="1978.8" cy="363.2" r="8.5" fill="#EE0000"/>
<circle cx="1956.9" cy="367.1" r="8.5" fill="#EE0000"/>
<circle cx="1938.6" cy="377.3" r="8.5" fill="#EE0000"/>
<circle cx="1953.0" cy="389.0" r="8.5" fill="#EE0000"/>
<circle cx="1929.4" cy="406.1" r="8.5" fill="#EE0000"/>
<circle cx="1986.1" cy="408.5" r="8.5" fill="#EE0000"/>
<circle cx="2023.0" cy="314.1" r="8.5" fill="#EE0000"/>
<circle cx="2020.1" cy="329.2" r="8.5" fill="#EE0000"/>
<circle cx="2051.0" cy="300.0" r="8.5" fill="#EE0000"/>
<circle cx="2066.4" cy="292.7" r="8.5" fill="#EE0000"/>
<circle cx="2068.8" cy="338.9" r="8.5" fill="#EE0000"/>
<circle cx="2076.1" cy="342.1" r="8.5" fill="#EE0000"/>
<circle cx="2018.2" cy="351.8" r="8.5" fill="#EE0000"/>
<circle cx="2023.8" cy="350.1" r="8.5" fill="#EE0000"/>
<circle cx="2054.2" cy="347.7" r="8.5" fill="#EE0000"/>
<circle cx="2047.4" cy="362.7" r="8.5" fill="#EE0000"/>
<circle cx="2036.4" cy="402.4" r="8.5" fill="#EE0000"/>
<circle cx="2055.9" cy="398.0" r="8.5" fill="#EE0000"/>
<circle cx="2072.4" cy="401.2" r="8.5" fill="#EE0000"/>
<circle cx="2047.4" cy="410.2" r="8.5" fill="#EE0000"/>
<circle cx="2053.5" cy="418.7" r="8.5" fill="#EE0000"/>
<circle cx="2042.0" cy="421.1" r="8.5" fill="#EE0000"/>
<circle cx="1838.9" cy="385.9" r="8.5" fill="#EE0000"/>
<circle cx="1824.7" cy="402.4" r="8.5" fill="#EE0000"/>
<circle cx="1821.1" cy="416.8" r="8.5" fill="#EE0000"/>
<circle cx="2095.8" cy="314.8" r="8.5" fill="#EE0000"/>
<circle cx="2137.7" cy="312.9" r="8.5" fill="#EE0000"/>
<circle cx="2178.1" cy="315.3" r="8.5" fill="#EE0000"/>
<circle cx="2187.1" cy="326.3" r="8.5" fill="#EE0000"/>
<circle cx="2279.5" cy="304.4" r="8.5" fill="#EE0000"/>
<circle cx="2112.4" cy="344.5" r="8.5" fill="#EE0000"/>
<circle cx="2196.3" cy="345.7" r="8.5" fill="#EE0000"/>
<circle cx="2095.8" cy="378.6" r="8.5" fill="#EE0000"/>
<circle cx="2126.2" cy="378.6" r="8.5" fill="#EE0000"/>
<circle cx="2082.4" cy="384.6" r="8.5" fill="#EE0000"/>
<circle cx="1627.4" cy="440.5" r="8.5" fill="#EE0000"/>
<circle cx="1616.2" cy="459.2" r="8.5" fill="#EE0000"/>
<circle cx="1536.6" cy="470.9" r="8.5" fill="#EE0000"/>
<circle cx="1604.0" cy="482.8" r="8.5" fill="#EE0000"/>
<circle cx="1724.7" cy="475.7" r="8.5" fill="#EE0000"/>
<circle cx="1743.5" cy="486.4" r="8.5" fill="#EE0000"/>
<circle cx="1766.1" cy="481.6" r="8.5" fill="#EE0000"/>
<circle cx="1739.8" cy="508.3" r="8.5" fill="#EE0000"/>
<circle cx="1695.3" cy="489.1" r="8.5" fill="#EE0000"/>
<circle cx="1619.9" cy="508.3" r="8.5" fill="#EE0000"/>
<circle cx="1680.2" cy="506.6" r="8.5" fill="#EE0000"/>
<circle cx="1689.9" cy="510.3" r="8.5" fill="#EE0000"/>
<circle cx="1566.3" cy="543.9" r="8.5" fill="#EE0000"/>
<circle cx="1728.1" cy="567.5" r="8.5" fill="#EE0000"/>
<circle cx="1522.0" cy="595.5" r="8.5" fill="#EE0000"/>
<circle cx="1695.5" cy="628.3" r="8.5" fill="#EE0000"/>
<circle cx="1670.0" cy="638.0" r="8.5" fill="#EE0000"/>
<circle cx="1622.3" cy="647.8" r="8.5" fill="#EE0000"/>
<circle cx="1724.5" cy="661.9" r="8.5" fill="#EE0000"/>
<circle cx="1774.9" cy="445.8" r="8.5" fill="#EE0000"/>
<circle cx="1838.6" cy="444.6" r="8.5" fill="#EE0000"/>
<circle cx="1821.8" cy="451.9" r="8.5" fill="#EE0000"/>
<circle cx="1888.5" cy="439.7" r="8.5" fill="#EE0000"/>
<circle cx="1889.2" cy="447.5" r="8.5" fill="#EE0000"/>
<circle cx="1782.2" cy="461.1" r="8.5" fill="#EE0000"/>
<circle cx="1788.2" cy="464.1" r="8.5" fill="#EE0000"/>
<circle cx="1783.4" cy="475.0" r="8.5" fill="#EE0000"/>
<circle cx="1786.5" cy="479.9" r="8.5" fill="#EE0000"/>
<circle cx="1996.3" cy="459.7" r="8.5" fill="#EE0000"/>
<circle cx="1796.3" cy="644.8" r="8.5" fill="#EE0000"/>
<circle cx="1921.3" cy="650.9" r="8.5" fill="#EE0000"/>
<circle cx="2200.9" cy="443.9" r="8.5" fill="#EE0000"/>
<circle cx="2232.6" cy="434.9" r="8.5" fill="#EE0000"/>
<circle cx="2331.1" cy="449.0" r="8.5" fill="#EE0000"/>
<circle cx="1564.8" cy="711.8" r="8.5" fill="#EE0000"/>
<circle cx="1690.6" cy="676.8" r="8.5" fill="#EE0000"/>
<circle cx="1899.1" cy="714.3" r="8.5" fill="#EE0000"/>
<circle cx="1737.9" cy="395.6" r="8.5" fill="#008B45"/>
<circle cx="1757.3" cy="418.7" r="8.5" fill="#008B45"/>
<circle cx="1903.3" cy="292.2" r="8.5" fill="#008B45"/>
<circle cx="1855.9" cy="323.3" r="8.5" fill="#008B45"/>
<circle cx="1806.5" cy="346.2" r="8.5" fill="#008B45"/>
<circle cx="1812.6" cy="362.7" r="8.5" fill="#008B45"/>
<circle cx="1886.1" cy="342.8" r="8.5" fill="#008B45"/>
<circle cx="1953.0" cy="314.1" r="8.5" fill="#008B45"/>
<circle cx="1956.1" cy="353.5" r="8.5" fill="#008B45"/>
<circle cx="1971.9" cy="345.2" r="8.5" fill="#008B45"/>
<circle cx="1989.5" cy="334.8" r="8.5" fill="#008B45"/>
<circle cx="1986.1" cy="356.7" r="8.5" fill="#008B45"/>
<circle cx="1979.7" cy="364.5" r="8.5" fill="#008B45"/>
<circle cx="1938.6" cy="375.4" r="8.5" fill="#008B45"/>
<circle cx="1917.2" cy="374.2" r="8.5" fill="#008B45"/>
<circle cx="1964.6" cy="399.7" r="8.5" fill="#008B45"/>
<circle cx="1937.9" cy="398.0" r="8.5" fill="#008B45"/>
<circle cx="1941.5" cy="400.5" r="8.5" fill="#008B45"/>
<circle cx="1962.9" cy="419.9" r="8.5" fill="#008B45"/>
<circle cx="2017.7" cy="310.9" r="8.5" fill="#008B45"/>
<circle cx="2040.6" cy="385.1" r="8.5" fill="#008B45"/>
<circle cx="2025.5" cy="424.8" r="8.5" fill="#008B45"/>
<circle cx="1859.5" cy="384.6" r="8.5" fill="#008B45"/>
<circle cx="1886.8" cy="407.3" r="8.5" fill="#008B45"/>
<circle cx="1879.5" cy="415.1" r="8.5" fill="#008B45"/>
<circle cx="2086.1" cy="301.9" r="8.5" fill="#008B45"/>
<circle cx="2162.7" cy="342.8" r="8.5" fill="#008B45"/>
<circle cx="2167.6" cy="368.8" r="8.5" fill="#008B45"/>
<circle cx="2109.2" cy="381.7" r="8.5" fill="#008B45"/>
<circle cx="2131.8" cy="374.9" r="8.5" fill="#008B45"/>
<circle cx="2083.6" cy="389.0" r="8.5" fill="#008B45"/>
<circle cx="2084.9" cy="399.2" r="8.5" fill="#008B45"/>
<circle cx="2180.5" cy="388.3" r="8.5" fill="#008B45"/>
<circle cx="2133.0" cy="406.1" r="8.5" fill="#008B45"/>
<circle cx="2090.9" cy="413.1" r="8.5" fill="#008B45"/>
<circle cx="2197.3" cy="417.5" r="8.5" fill="#008B45"/>
<circle cx="1698.4" cy="458.7" r="8.5" fill="#008B45"/>
<circle cx="1737.4" cy="470.1" r="8.5" fill="#008B45"/>
<circle cx="1741.0" cy="467.2" r="8.5" fill="#008B45"/>
<circle cx="1734.5" cy="492.0" r="8.5" fill="#008B45"/>
<circle cx="1742.7" cy="510.3" r="8.5" fill="#008B45"/>
<circle cx="1729.6" cy="542.4" r="8.5" fill="#008B45"/>
<circle cx="1662.7" cy="578.4" r="8.5" fill="#008B45"/>
<circle cx="1734.9" cy="589.9" r="8.5" fill="#008B45"/>
<circle cx="1552.0" cy="594.2" r="8.5" fill="#008B45"/>
<circle cx="1643.7" cy="616.9" r="8.5" fill="#008B45"/>
<circle cx="1693.1" cy="625.9" r="8.5" fill="#008B45"/>
<circle cx="1792.4" cy="439.7" r="8.5" fill="#008B45"/>
<circle cx="1900.2" cy="447.5" r="8.5" fill="#008B45"/>
<circle cx="1863.2" cy="447.5" r="8.5" fill="#008B45"/>
<circle cx="1786.3" cy="466.5" r="8.5" fill="#008B45"/>
<circle cx="1909.2" cy="461.1" r="8.5" fill="#008B45"/>
<circle cx="1874.6" cy="477.0" r="8.5" fill="#008B45"/>
<circle cx="1844.9" cy="480.4" r="8.5" fill="#008B45"/>
<circle cx="1780.2" cy="504.2" r="8.5" fill="#008B45"/>
<circle cx="1833.3" cy="508.6" r="8.5" fill="#008B45"/>
<circle cx="1856.4" cy="510.8" r="8.5" fill="#008B45"/>
<circle cx="1882.4" cy="496.9" r="8.5" fill="#008B45"/>
<circle cx="1895.3" cy="506.2" r="8.5" fill="#008B45"/>
<circle cx="1902.6" cy="501.0" r="8.5" fill="#008B45"/>
<circle cx="1903.8" cy="502.3" r="8.5" fill="#008B45"/>
<circle cx="1951.5" cy="528.5" r="8.5" fill="#008B45"/>
<circle cx="1962.7" cy="457.5" r="8.5" fill="#008B45"/>
<circle cx="1953.7" cy="489.6" r="8.5" fill="#008B45"/>
<circle cx="2003.1" cy="483.5" r="8.5" fill="#008B45"/>
<circle cx="2051.8" cy="480.6" r="8.5" fill="#008B45"/>
<circle cx="2059.5" cy="442.2" r="8.5" fill="#008B45"/>
<circle cx="2010.4" cy="526.1" r="8.5" fill="#008B45"/>
<circle cx="2009.7" cy="538.3" r="8.5" fill="#008B45"/>
<circle cx="2029.9" cy="543.1" r="8.5" fill="#008B45"/>
<circle cx="2059.5" cy="528.5" r="8.5" fill="#008B45"/>
<circle cx="2059.1" cy="535.1" r="8.5" fill="#008B45"/>
<circle cx="2070.5" cy="559.7" r="8.5" fill="#008B45"/>
<circle cx="1820.4" cy="536.3" r="8.5" fill="#008B45"/>
<circle cx="1803.3" cy="546.8" r="8.5" fill="#008B45"/>
<circle cx="1846.2" cy="563.8" r="8.5" fill="#008B45"/>
<circle cx="1817.9" cy="577.2" r="8.5" fill="#008B45"/>
<circle cx="1826.0" cy="584.5" r="8.5" fill="#008B45"/>
<circle cx="1922.8" cy="614.4" r="8.5" fill="#008B45"/>
<circle cx="2106.3" cy="432.9" r="8.5" fill="#008B45"/>
<circle cx="2102.4" cy="442.2" r="8.5" fill="#008B45"/>
<circle cx="2083.6" cy="453.8" r="8.5" fill="#008B45"/>
<circle cx="2222.3" cy="433.6" r="8.5" fill="#008B45"/>
<circle cx="2125.0" cy="477.4" r="8.5" fill="#008B45"/>
<circle cx="2166.9" cy="479.1" r="8.5" fill="#008B45"/>
<circle cx="2105.5" cy="500.1" r="8.5" fill="#008B45"/>
<circle cx="2205.3" cy="501.8" r="8.5" fill="#008B45"/>
<circle cx="2306.3" cy="483.5" r="8.5" fill="#008B45"/>
<circle cx="2353.0" cy="489.6" r="8.5" fill="#008B45"/>
<circle cx="2255.7" cy="510.3" r="8.5" fill="#008B45"/>
<circle cx="2269.1" cy="514.7" r="8.5" fill="#008B45"/>
<circle cx="2089.7" cy="526.1" r="8.5" fill="#008B45"/>
<circle cx="2084.9" cy="531.0" r="8.5" fill="#008B45"/>
<circle cx="2103.1" cy="520.5" r="8.5" fill="#008B45"/>
<circle cx="2117.2" cy="524.2" r="8.5" fill="#008B45"/>
<circle cx="2141.3" cy="519.5" r="8.5" fill="#008B45"/>
<circle cx="2171.5" cy="531.5" r="8.5" fill="#008B45"/>
<circle cx="2308.2" cy="541.2" r="8.5" fill="#008B45"/>
<circle cx="2318.0" cy="549.2" r="8.5" fill="#008B45"/>
<circle cx="2340.8" cy="539.5" r="8.5" fill="#008B45"/>
<circle cx="2206.5" cy="605.9" r="8.5" fill="#008B45"/>
<circle cx="2255.9" cy="580.1" r="8.5" fill="#008B45"/>
<circle cx="2278.8" cy="584.0" r="8.5" fill="#008B45"/>
<circle cx="2288.8" cy="595.5" r="8.5" fill="#008B45"/>
<circle cx="2303.4" cy="610.0" r="8.5" fill="#008B45"/>
<circle cx="2305.8" cy="611.3" r="8.5" fill="#008B45"/>
<circle cx="2362.2" cy="585.0" r="8.5" fill="#008B45"/>
<circle cx="2370.8" cy="606.4" r="8.5" fill="#008B45"/>
<circle cx="1708.8" cy="678.0" r="8.5" fill="#008B45"/>
<circle cx="1720.5" cy="870.0" r="8.5" fill="#008B45"/>
<circle cx="1730.0" cy="692.6" r="8.5" fill="#008B45"/>
<circle cx="1852.1" cy="725.5" r="8.5" fill="#008B45"/>
<circle cx="2016.4" cy="699.9" r="8.5" fill="#008B45"/>
<circle cx="1774.5" cy="789.7" r="8.5" fill="#008B45"/>
<circle cx="2064.3" cy="683.4" r="8.5" fill="#008B45"/>
<circle cx="2241.5" cy="829.4" r="8.5" fill="#008B45"/>
<circle cx="2267.5" cy="823.3" r="8.5" fill="#008B45"/>
</g>
<polyline points="2156.1,315.9 2153.4,290.5 2145.3,268.1 2132.1,249.2 2113.8,233.9 2090.7,222.6 2063.3,215.3 2031.9,212.3 1997.0,213.5 1959.1,219.0 1918.8,228.6 1876.7,242.2 1833.4,259.5 1789.7,280.5 1746.1,304.6 1703.3,331.6 1662.1,361.1 1622.9,392.5 1586.4,425.5 1553.2,459.4 1523.7,493.9 1498.4,528.4 1477.7,562.3 1461.9,595.1 1451.2,626.4 1445.9,655.7 1445.9,682.5 1451.2,706.5 1461.9,727.1 1477.7,744.3 1498.4,757.6 1523.7,766.9 1553.2,772.0 1586.4,773.0 1622.9,769.6 1662.1,762.1 1703.3,750.5 1746.1,734.9 1789.7,715.7 1833.4,693.2 1876.7,667.5 1918.8,639.3 1959.1,608.8 1997.0,576.5 2031.9,543.0 2063.3,508.7 2090.7,474.2 2113.8,439.9 2132.1,406.5 2145.3,374.3 2153.4,344.0 2156.1,315.9" fill="none" stroke="#3B4992" stroke-width="2.35" stroke-linejoin="round" stroke-linecap="butt"/>
<polyline points="2299.4,281.4 2296.4,257.2 2287.2,234.9 2272.2,214.7 2251.5,197.1 2225.3,182.2 2194.2,170.4 2158.6,161.7 2118.9,156.3 2076.0,154.3 2030.2,155.8 1982.5,160.6 1933.4,168.8 1883.8,180.1 1834.4,194.5 1785.9,211.7 1739.1,231.5 1694.6,253.5 1653.3,277.4 1615.6,302.9 1582.1,329.6 1553.4,357.0 1530.0,384.8 1512.0,412.5 1499.9,439.7 1493.8,466.0 1493.8,491.0 1499.9,514.3 1512.0,535.6 1530.0,554.5 1553.4,570.8 1582.1,584.2 1615.6,594.5 1653.3,601.6 1694.6,605.3 1739.1,605.5 1785.9,602.4 1834.4,595.9 1883.8,586.1 1933.4,573.2 1982.5,557.3 2030.2,538.8 2076.0,517.9 2118.9,494.9 2158.6,470.1 2194.2,444.0 2225.3,416.9 2251.5,389.2 2272.2,361.5 2287.2,334.0 2296.4,307.1 2299.4,281.4" fill="none" stroke="#EE0000" stroke-width="2.35" stroke-linejoin="round" stroke-linecap="butt"/>
<polyline points="2446.3,487.1 2442.9,456.7 2432.6,426.6 2415.6,397.3 2392.2,369.2 2362.7,342.8 2327.6,318.4 2287.4,296.4 2242.8,277.3 2194.3,261.1 2142.7,248.3 2088.9,238.9 2033.5,233.2 1977.6,231.2 1921.8,233.0 1867.1,238.4 1814.3,247.6 1764.2,260.2 1717.5,276.1 1675.0,295.1 1637.3,316.9 1604.9,341.1 1578.5,367.4 1558.2,395.4 1544.6,424.6 1537.7,454.7 1537.7,485.1 1544.6,515.5 1558.2,545.2 1578.5,574.0 1604.9,601.3 1637.3,626.8 1675.0,650.0 1717.5,670.6 1764.2,688.3 1814.3,702.8 1867.1,713.9 1921.8,721.4 1977.6,725.3 2033.5,725.4 2088.9,721.8 2142.7,714.5 2194.3,703.6 2242.8,689.3 2287.4,671.8 2327.6,651.4 2362.7,628.4 2392.2,603.0 2415.6,575.8 2432.6,547.2 2442.9,517.5 2446.3,487.1" fill="none" stroke="#008B45" stroke-width="2.35" stroke-linejoin="round" stroke-linecap="butt"/>
<rect x="2325.5" y="195" width="124.5" height="165.2" fill="#fff"/>
<text transform="translate(2336.90,223.30) scale(1,1.041)" font-size="23.6">genotype</text>
<circle cx="2356" cy="256" r="8.5" fill="#3B4992" fill-opacity="0.7"/>
<text transform="translate(2386.30,265.80) scale(1,1.041)" font-size="26">D</text>
<circle cx="2356" cy="293" r="8.5" fill="#EE0000" fill-opacity="0.7"/>
<text transform="translate(2386.30,302.80) scale(1,1.041)" font-size="26">E</text>
<circle cx="2356" cy="330" r="8.5" fill="#008B45" fill-opacity="0.7"/>
<text transform="translate(2386.30,339.80) scale(1,1.041)" font-size="26">H</text>
<rect x="1396.3" y="119.5" width="1099.1000000000001" height="786.1" fill="none" stroke="#262626" stroke-width="1.45"/>
<line x1="1390.0" y1="280.1" x2="1396.3" y2="280.1" stroke="#1a1a1a" stroke-width="2.1"/>
<text transform="translate(1384.80,292.00) scale(1,1.041)" font-size="32.5" text-anchor="end">0.2</text>
<line x1="1390.0" y1="463.1" x2="1396.3" y2="463.1" stroke="#1a1a1a" stroke-width="2.1"/>
<text transform="translate(1384.80,475.00) scale(1,1.041)" font-size="32.5" text-anchor="end">0.0</text>
<line x1="1390.0" y1="646.1" x2="1396.3" y2="646.1" stroke="#1a1a1a" stroke-width="2.1"/>
<text transform="translate(1384.80,658.00) scale(1,1.041)" font-size="32.5" text-anchor="end">−0.2</text>
<line x1="1390.0" y1="829.1" x2="1396.3" y2="829.1" stroke="#1a1a1a" stroke-width="2.1"/>
<text transform="translate(1384.80,841.00) scale(1,1.041)" font-size="32.5" text-anchor="end">−0.4</text>
<line x1="1605.0" y1="905.6" x2="1605.0" y2="911.9" stroke="#1a1a1a" stroke-width="2.1"/>
<text transform="translate(1605.00,939.80) scale(1,1.041)" font-size="32.5" text-anchor="middle">−0.2</text>
<line x1="1893.8" y1="905.6" x2="1893.8" y2="911.9" stroke="#1a1a1a" stroke-width="2.1"/>
<text transform="translate(1893.80,939.80) scale(1,1.041)" font-size="32.5" text-anchor="middle">0.0</text>
<line x1="2182.5" y1="905.6" x2="2182.5" y2="911.9" stroke="#1a1a1a" stroke-width="2.1"/>
<text transform="translate(2182.50,939.80) scale(1,1.041)" font-size="32.5" text-anchor="middle">0.2</text>
<line x1="2471.3" y1="905.6" x2="2471.3" y2="911.9" stroke="#1a1a1a" stroke-width="2.1"/>
<text transform="translate(2471.30,939.80) scale(1,1.041)" font-size="32.5" text-anchor="middle">0.4</text>
<text transform="translate(1808.80,976.10) scale(1,1.041)" font-size="32.6">PCoA 1 (75.39%)</text>
<text transform="translate(1309.00,649.40) rotate(-90) scale(1,1.041)" font-size="32.6">PCoA 2 (24.61%)</text>
</svg></body></html>
